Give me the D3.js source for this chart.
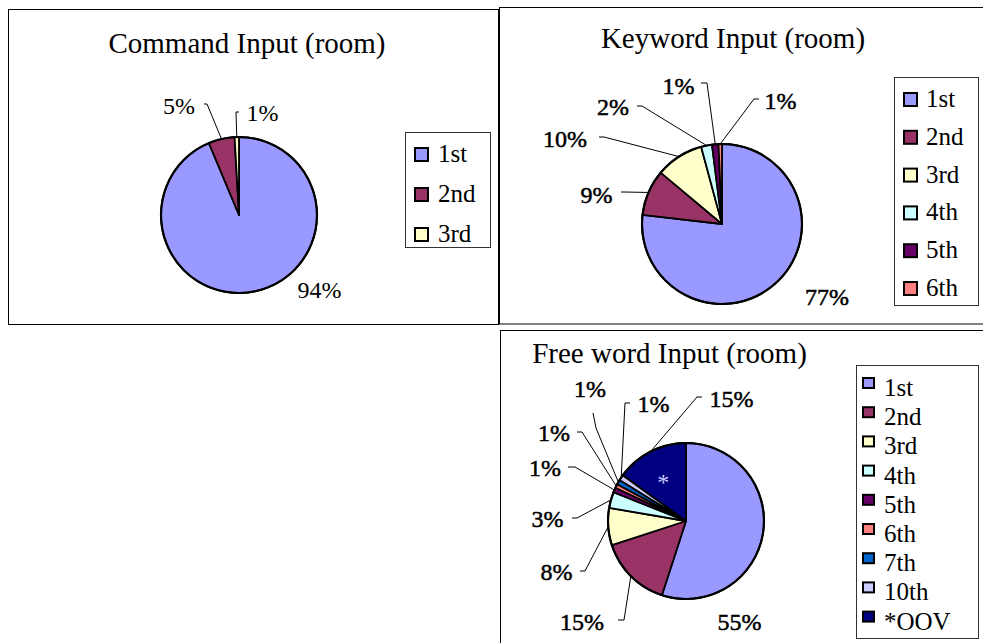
<!DOCTYPE html>
<html><head><meta charset="utf-8">
<script src="https://cdn.jsdelivr.net/npm/d3@7"></script>
<style>
body{margin:0;background:#fff}
svg{display:block}
text{font-family:"Liberation Serif","Times New Roman",serif;fill:#000}
</style>
</head><body>
<svg id="chart" width="983" height="643"></svg>
<script>
// ---------- data ----------
const commandCategories = ["1st", "2nd", "3rd"];
const commandValues = [93.7, 5.4, 0.9];

const keywordCategories = ["1st", "2nd", "3rd", "4th", "5th", "6th"];
const keywordValues = [76.8, 9.3, 9.7, 2.2, 1.3, 0.7];

const freeCategories = ["1st", "2nd", "3rd", "4th", "5th", "6th", "7th", "10th", "*OOV"];
const freeValues = [55, 15, 7.7, 3.3, 1.0, 0.8, 1.0, 1.2, 15];

const titles = ["Command Input (room)", "Keyword Input (room)", "Free word Input (room)"];

const categoryColors = {
  "1st": "#9999FF", "2nd": "#993366", "3rd": "#FFFFCC", "4th": "#CCFFFF",
  "5th": "#660066", "6th": "#FF8080", "7th": "#0066CC", "10th": "#CCCCFF", "*OOV": "#000080"
};
const sliceMarks = { "*OOV": "*" };

// ---------- layout (positions only) ----------
const panels = [
  {
    cats: commandCategories, vals: commandValues, title: titles[0],
    labelSize: 24, labelStroke: 0,
    frame: [8.5, 9.5, 490, 315], titlePos: [247, 53], center: [239, 215], r: 78,
    legend: { box: [405.5, 132.5, 85, 115], x: 414, y0: 147, step: 40, w: 15, h: 15, tx: 438, tb: 15 },
    labels: [
      { dx: 80.5, dy: 83 },
      { dx: -60, dy: -101, lead: [-35, -111, -32, -111] },
      { dx: 23.5, dy: -94, lead: [0, -103, -3, -103] }
    ]
  },
  {
    cats: keywordCategories, vals: keywordValues, title: titles[1],
    labelSize: 24, labelStroke: 0.5,
    frame: [499.5, 7.5, 520, 316.5], titlePos: [733, 48], center: [722, 224], r: 80,
    legend: { box: [894.5, 77.5, 84, 228], x: 903, y0: 92, step: 37.8, w: 15, h: 15, tx: 926, tb: 15 },
    labels: [
      { dx: 105, dy: 81 },
      { dx: -125.5, dy: -21, lead: [-101, -32, -98, -32] },
      { dx: -157, dy: -77, lead: [-123, -87, -118, -87] },
      { dx: -109, dy: -109, lead: [-85, -118, -80, -118] },
      { dx: -43.5, dy: -130, lead: [-21, -141, -15, -141] },
      { dx: 58.5, dy: -115, lead: [37, -125, 32, -125] }
    ]
  },
  {
    cats: freeCategories, vals: freeValues, title: titles[2],
    labelSize: 24, labelStroke: 0.5,
    frame: [500.5, 330.5, 520, 400], titlePos: [669.5, 363], center: [686, 521], r: 78,
    legend: { box: [856.5, 365.5, 122, 273], x: 862, y0: 377, step: 29.2, w: 13, h: 12, tx: 884, tb: 19 },
    labels: [
      { dx: 53.5, dy: 109 },
      { dx: -104, dy: 109, lead: [-68, 99, -62, 99] },
      { dx: -129.5, dy: 59, lead: [-106, 50, -101, 50] },
      { dx: -138.5, dy: 6, lead: [-114, -3, -109, -3] },
      { dx: -141, dy: -45, lead: [-118, -54, -111, -54] },
      { dx: -132, dy: -80, lead: [-109, -89, -104, -89] },
      { dx: -96, dy: -124, lead: [-93, -108, -90, -93] },
      { dx: -32.5, dy: -109, lead: [-56, -118, -61, -118] },
      { dx: 45.5, dy: -114, lead: [16, -124, 11, -124] }
    ]
  }
];

// ---------- drawing ----------
const svg = d3.select("#chart");
const pie = d3.pie().sort(null).value(d => d.v);

panels.forEach(p => {
  const g = svg.append("g");
  const data = p.cats.map((c, i) => ({ c, v: p.vals[i] }));
  const total = d3.sum(p.vals);

  // frame
  g.append("rect").attr("x", p.frame[0]).attr("y", p.frame[1])
    .attr("width", p.frame[2]).attr("height", p.frame[3])
    .attr("fill", "none").attr("stroke", "#000").attr("stroke-width", 1);

  // title
  g.append("text").attr("x", p.titlePos[0]).attr("y", p.titlePos[1])
    .attr("text-anchor", "middle").attr("font-size", 29).text(p.title);

  const arcs = pie(data);
  const arc = d3.arc().innerRadius(0).outerRadius(p.r);
  const edge = d3.arc().innerRadius(p.r).outerRadius(p.r);
  const inner = d3.arc().innerRadius(p.r * 0.64).outerRadius(p.r * 0.64);
  const pg = g.append("g").attr("transform", `translate(${p.center[0]},${p.center[1]})`);

  pg.selectAll("path.slice").data(arcs).join("path")
    .attr("class", "slice")
    .attr("d", arc)
    .attr("fill", d => categoryColors[d.data.c])
    .attr("stroke", "#000").attr("stroke-width", 1.8).attr("stroke-linejoin", "round");

  pg.append("circle").attr("r", p.r).attr("fill", "none")
    .attr("stroke", "#000").attr("stroke-width", 2.2);

  // slice marks
  arcs.forEach(d => {
    if (sliceMarks[d.data.c]) {
      const [cx, cy] = inner.centroid(d);
      pg.append("text").attr("x", cx).attr("y", cy + 13).attr("text-anchor", "middle")
        .attr("font-size", 24).style("fill", "#CCCCFF").text(sliceMarks[d.data.c]);
    }
  });

  // labels + leaders
  arcs.forEach((d, i) => {
    const L = p.labels[i];
    if (L.lead) {
      const [ex, ey] = edge.centroid(d);
      const path = d3.path();
      path.moveTo(L.lead[0], L.lead[1]);
      path.lineTo(L.lead[2], L.lead[3]);
      path.lineTo(ex, ey);
      pg.append("path").attr("d", path.toString()).attr("fill", "none")
        .attr("stroke", "#000").attr("stroke-width", 1);
    }
    const t = pg.append("text").attr("x", L.dx).attr("y", L.dy).attr("text-anchor", "middle")
      .attr("font-size", p.labelSize)
      .text(Math.round(d.data.v / total * 100) + "%");
    if (p.labelStroke) t.attr("stroke", "#000").attr("stroke-width", p.labelStroke);
  });

  // legend
  const lg = p.legend;
  g.append("rect").attr("x", lg.box[0]).attr("y", lg.box[1])
    .attr("width", lg.box[2]).attr("height", lg.box[3])
    .attr("fill", "#fff").attr("stroke", "#333").attr("stroke-width", 1);
  p.cats.forEach((c, i) => {
    const y = lg.y0 + i * lg.step;
    g.append("rect").attr("x", lg.x + 1).attr("y", y + 1)
      .attr("width", lg.w - 2).attr("height", lg.h - 2)
      .attr("fill", categoryColors[c]).attr("stroke", "#000").attr("stroke-width", 2);
    g.append("text").attr("x", lg.tx).attr("y", y + lg.tb)
      .attr("font-size", 25).text(c);
  });
});
</script>
</body></html>
